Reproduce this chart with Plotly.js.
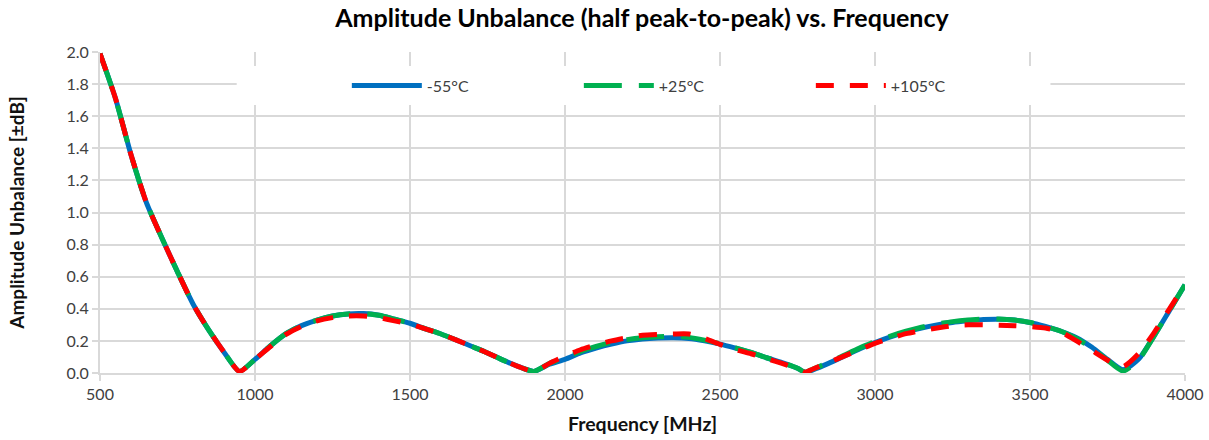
<!DOCTYPE html>
<html>
<head>
<meta charset="utf-8">
<script src="https://cdn.plot.ly/plotly-3.0.1.min.js"></script>
<style>html,body{margin:0;padding:0;background:#fff;}#chart{width:1209px;height:440px;}</style>
</head>
<body>
<div id="chart"></div>
<script>
const freq = [500,550,600,650,700,750,800,850,900,950,1000,1050,1100,1150,1200,1250,1300,1350,1400,1450,1500,1550,1600,1650,1700,1750,1800,1850,1900,1950,2000,2050,2100,2150,2200,2250,2300,2350,2400,2450,2500,2550,2600,2650,2700,2750,2775,2800,2850,2900,2950,3000,3050,3100,3150,3200,3250,3300,3350,3400,3450,3500,3550,3600,3650,3700,3750,3800,3850,3900,3950,4000];
const m55 = [1.99,1.71,1.36,1.06,0.84,0.63,0.43,0.27,0.13,0.01,0.085,0.17,0.245,0.295,0.33,0.355,0.368,0.37,0.36,0.335,0.31,0.275,0.243,0.205,0.165,0.125,0.08,0.04,0.01,0.055,0.085,0.125,0.155,0.18,0.2,0.212,0.218,0.22,0.215,0.2,0.18,0.155,0.128,0.095,0.065,0.03,0.005,0.02,0.06,0.105,0.15,0.19,0.225,0.255,0.28,0.3,0.315,0.325,0.333,0.335,0.33,0.315,0.29,0.26,0.22,0.16,0.085,0.02,0.085,0.23,0.39,0.55];
const p25 = [1.99,1.71,1.36,1.06,0.84,0.63,0.43,0.27,0.13,0.01,0.085,0.17,0.245,0.295,0.33,0.355,0.368,0.37,0.36,0.335,0.31,0.275,0.243,0.205,0.165,0.125,0.08,0.04,0.01,0.06,0.095,0.135,0.165,0.19,0.208,0.22,0.226,0.228,0.222,0.205,0.183,0.157,0.128,0.095,0.065,0.03,0.005,0.025,0.065,0.11,0.155,0.195,0.23,0.26,0.285,0.305,0.32,0.33,0.336,0.337,0.33,0.315,0.29,0.26,0.215,0.155,0.08,0.012,0.08,0.23,0.39,0.55];
const p105 = [1.99,1.71,1.36,1.06,0.84,0.63,0.43,0.27,0.13,0.01,0.085,0.165,0.24,0.29,0.325,0.345,0.355,0.355,0.345,0.325,0.305,0.275,0.243,0.205,0.165,0.125,0.08,0.04,0.01,0.06,0.105,0.145,0.175,0.2,0.22,0.235,0.24,0.243,0.243,0.215,0.178,0.145,0.12,0.09,0.06,0.025,0.005,0.025,0.065,0.105,0.145,0.185,0.215,0.245,0.265,0.28,0.295,0.3,0.3,0.298,0.295,0.29,0.28,0.255,0.2,0.14,0.08,0.04,0.12,0.25,0.4,0.55];

const names = ['-55°C', '+25°C', '+105°C'];
const colors = ['#0070C0', '#00B050', '#FF0000'];
const dashes = ['solid', '38px,17px', '18px,16px'];
const series = [m55, p25, p105];

const traces = series.map((ys, i) => ({
  x: freq, y: ys, name: names[i], type: 'scatter', mode: 'lines',
  line: {color: colors[i], width: 5, dash: dashes[i], shape: 'spline', smoothing: 0.6}
}));

const grid = '#d9d9d9';
const FONT = 'Lato, sans-serif';
const layout = {
  width: 1209, height: 440,
  margin: {l: 100, r: 24, t: 52, b: 67},
  paper_bgcolor: '#fff', plot_bgcolor: '#fff',
  font: {family: FONT, color: '#404040'},
  title: {text: 'Amplitude Unbalance (half peak-to-peak) vs. Frequency', x: 0.531, xanchor: 'center', y: 0.958, yanchor: 'middle',
          font: {family: FONT, size: 25, color: '#000', weight: 700}},
  xaxis: {range: [500, 4000], tick0: 500, dtick: 500, showgrid: true, gridcolor: grid, gridwidth: 2,
          showline: true, linecolor: grid, linewidth: 2, ticks: 'outside', ticklen: 6, tickcolor: grid, tickwidth: 2,
          zeroline: false, tickfont: {size: 16, color: '#404040'},
          title: {text: 'Frequency [MHz]', font: {size: 19.5, color: '#111', weight: 700}, standoff: 15}},
  yaxis: {range: [0, 2.0], dtick: 0.2, tickformat: '.1f', showgrid: true, gridcolor: grid, gridwidth: 2,
          showline: true, linecolor: grid, linewidth: 2, ticks: 'outside', ticklen: 6, tickcolor: grid, tickwidth: 2,
          zeroline: false, tickfont: {size: 16, color: '#404040'},
          title: {text: 'Amplitude Unbalance [±dB]', font: {size: 19, color: '#111', weight: 700}, standoff: 37}},
  legend: {orientation: 'h', x: 0.2275, xanchor: 'left', y: 0.895, yanchor: 'middle', bgcolor: 'rgba(0,0,0,0)',
           itemwidth: 70, entrywidth: 147, entrywidthmode: 'pixels', font: {size: 16, color: '#404040'}},
  shapes: [{type: 'rect', xref: 'paper', yref: 'paper', x0: 0.126, x1: 0.876, y0: 0.835, y1: 0.956,
            fillcolor: '#fff', line: {width: 0}, layer: 'above'}],
  showlegend: true
};

Plotly.newPlot('chart', traces, layout, {displayModeBar: false, staticPlot: true});
</script>
</body>
</html>
